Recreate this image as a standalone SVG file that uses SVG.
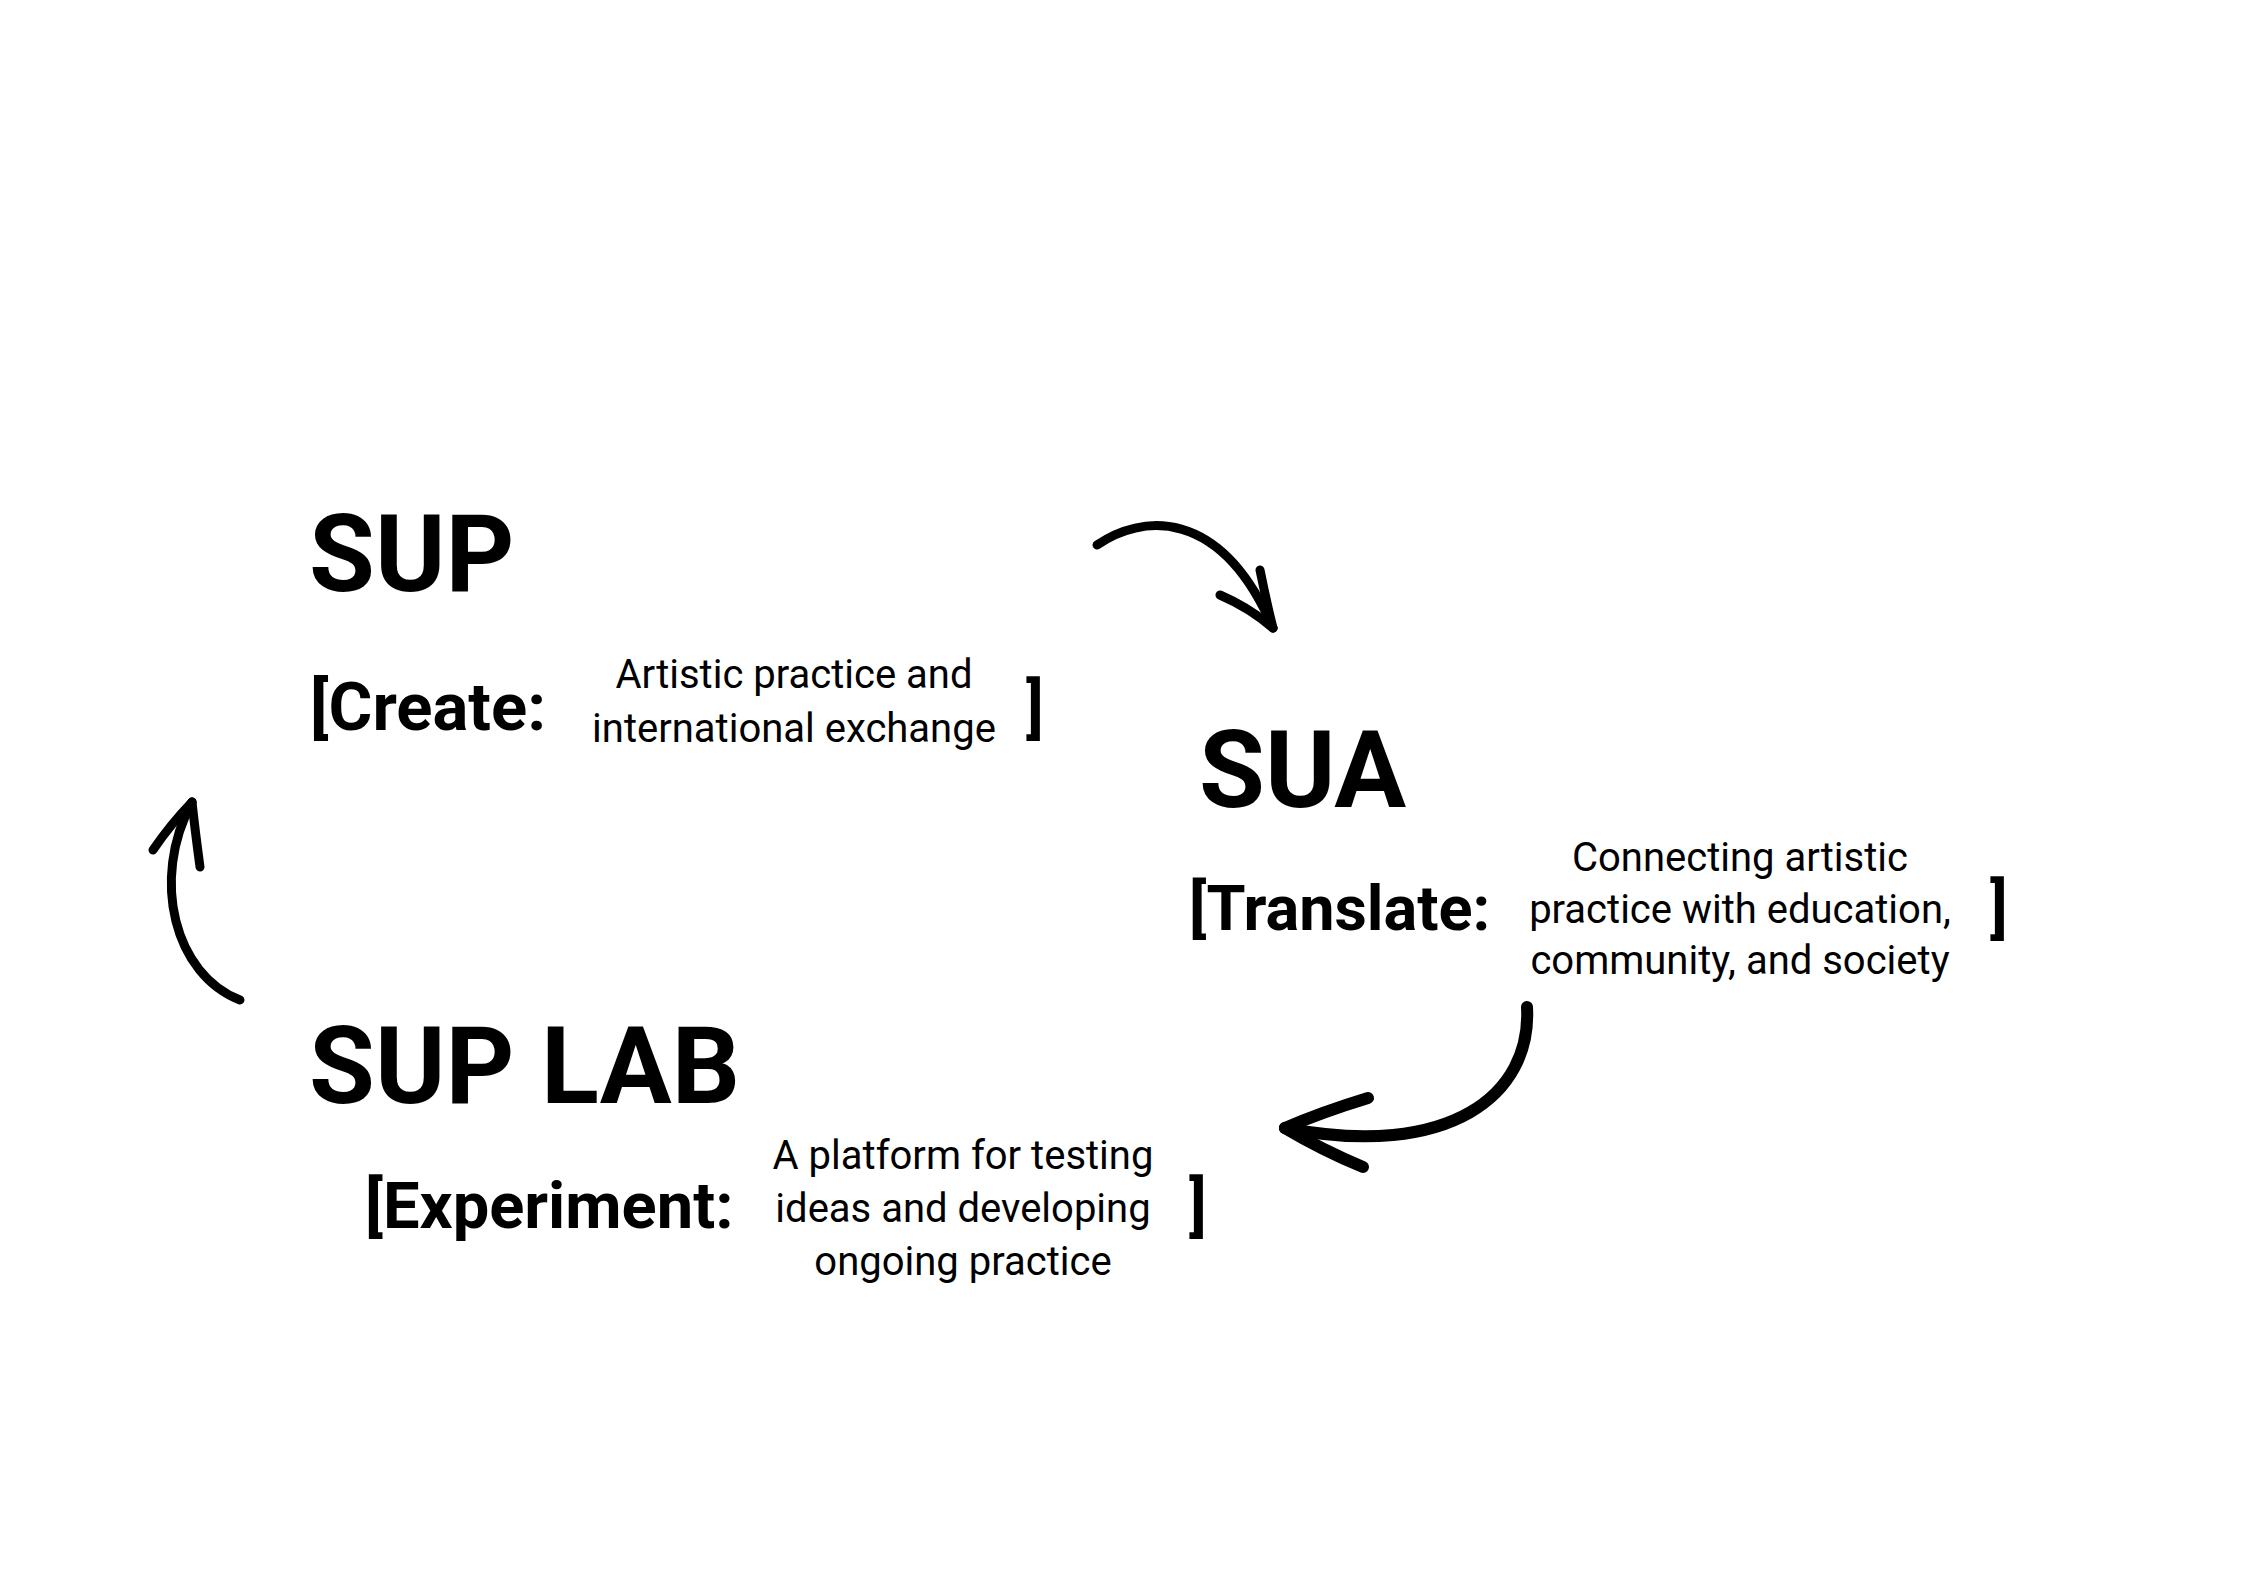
<svg xmlns="http://www.w3.org/2000/svg" width="2245" height="1587" viewBox="0 0 2245 1587">
<style>
.title{font-family:Roboto,"Liberation Sans",sans-serif;font-weight:700;font-size:107px;fill:#000}
.label{font-family:Roboto,"Liberation Sans",sans-serif;font-weight:700;font-size:64px;fill:#000}
.desc{font-family:Roboto,"Liberation Sans",sans-serif;font-weight:400;font-size:40px;fill:#000;text-anchor:middle}
.arrow{fill:none;stroke:#000;stroke-linecap:round;stroke-linejoin:round}
</style>
<rect width="2245" height="1587" fill="#fff"/>
<g id="node-sup">
<text class="title" x="309" y="591">SUP</text>
<text class="label" x="310" y="730" style="font-size:67px">[Create:</text>
<text class="desc" x="794" y="688">Artistic practice and</text>
<text class="desc" x="794" y="742">international exchange</text>
<text class="label" x="1026" y="730">]</text>
</g>
<g id="node-sua">
<text class="title" x="1199" y="807">SUA</text>
<text class="label" x="1189" y="930" style="font-size:63px">[Translate:</text>
<text class="desc" x="1740" y="871">Connecting artistic</text>
<text class="desc" x="1740" y="923">practice with education,</text>
<text class="desc" x="1740" y="974">community, and society</text>
<text class="label" x="1990" y="930">]</text>
</g>
<g id="node-suplab">
<text class="title" x="309" y="1103">SUP LAB</text>
<text class="label" x="365" y="1228" style="font-size:65px">[Experiment:</text>
<text class="desc" x="963" y="1169">A platform for testing</text>
<text class="desc" x="963" y="1222">ideas and developing</text>
<text class="desc" x="963" y="1275">ongoing practice</text>
<text class="label" x="1189" y="1228">]</text>
</g>
<g id="connectors">
<g stroke-width="9" class="arrow">
<path d="M1097,545 C1140,515 1220,505 1273,628"/>
<path d="M1220,595 Q1250,608 1273,628"/>
<path d="M1260,570 Q1266,600 1273,628"/>
</g>
<g stroke-width="12" class="arrow">
<path d="M1527,1007 C1532,1095 1450,1160 1285,1128"/>
<path d="M1368,1098 Q1322,1112 1285,1128"/>
<path d="M1363,1167 Q1322,1150 1285,1128"/>
</g>
<g stroke-width="9" class="arrow">
<path d="M240,1000 C175,975 150,880 192,802"/>
<path d="M153,850 Q170,825 192,802"/>
<path d="M200,867 Q195,830 192,802"/>
</g>
</g>
</svg>
